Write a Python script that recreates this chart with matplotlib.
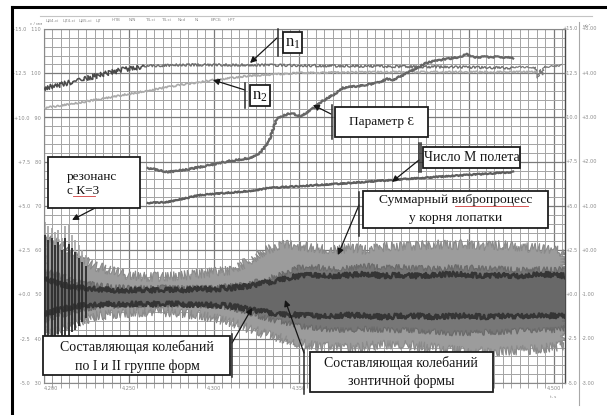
import numpy as np
import matplotlib.pyplot as plt
from matplotlib.patches import Rectangle
from matplotlib.lines import Line2D

plt.rcParams['font.family'] = ['Liberation Serif', 'DejaVu Serif']

# time, s
t = [4.200, 4.210, 4.220, 4.230, 4.240, 4.250, 4.260, 4.270, 4.280, 4.290,
     4.300, 4.310, 4.320, 4.330, 4.340, 4.350, 4.360, 4.370, 4.380, 4.390,
     4.400, 4.410, 4.420, 4.430, 4.440, 4.450, 4.460, 4.470, 4.480, 4.490,
     4.500, 4.5065]

# envelope of the total vibration signal at the blade root
total_top = [3.36, 2.80, 2.06, 1.61, 1.33, 1.10, 0.99, 0.99, 1.05, 1.16,
             1.27, 1.38, 1.84, 2.51, 2.80, 2.74, 2.63, 2.51, 2.63, 2.51,
             2.68, 2.74, 2.74, 2.85, 2.80, 2.85, 2.74, 2.80, 2.68, 2.63,
             2.51, 2.40]
total_bot = [-2.29, -2.01, -1.55, -1.21, -1.10, -1.05, -0.99, -0.99, -1.05, -1.16,
             -1.33, -1.55, -1.89, -2.23, -2.46, -2.74, -2.91, -2.97, -3.02, -2.91,
             -2.85, -2.85, -2.91, -3.02, -3.14, -3.25, -3.25, -3.19, -3.14, -3.08,
             -2.97, -2.85]

# I and II mode group component
mid_top = [1.38, 1.05, 0.71, 0.54, 0.42, 0.37, 0.37, 0.37, 0.37, 0.37,
           0.37, 0.48, 0.59, 0.82, 1.16, 1.50, 1.55, 1.44, 1.50, 1.61,
           1.50, 1.55, 1.50, 1.44, 1.55, 1.50, 1.50, 1.44, 1.38, 1.44,
           1.38, 1.50]
mid_bot = [-1.44, -1.16, -0.88, -0.71, -0.65, -0.59, -0.59, -0.59, -0.59, -0.59,
           -0.65, -0.76, -0.99, -1.33, -1.55, -1.78, -1.89, -2.01, -2.01, -1.95,
           -2.01, -2.01, -2.06, -2.12, -2.18, -2.18, -2.12, -2.12, -2.06, -2.01,
           -2.01, -1.89]

# umbrella mode component
core_top = [0.93, 0.59, 0.37, 0.31, 0.25, 0.25, 0.25, 0.25, 0.25, 0.31,
            0.31, 0.37, 0.48, 0.65, 0.88, 1.05, 1.10, 1.05, 1.10, 1.16,
            1.05, 1.10, 1.05, 1.10, 1.16, 1.10, 1.05, 1.10, 1.05, 1.16,
            1.10, 1.05]
core_bot = [-1.10, -0.82, -0.65, -0.59, -0.54, -0.54, -0.54, -0.54, -0.54, -0.59,
            -0.59, -0.65, -0.82, -0.99, -1.10, -1.16, -1.21, -1.21, -1.16, -1.21,
            -1.27, -1.21, -1.21, -1.27, -1.21, -1.21, -1.27, -1.21, -1.21, -1.16,
            -1.21, -1.21]

# resonance K=3 bursts
res_t = [4.2005, 4.2025, 4.2045, 4.2065, 4.2085, 4.2105, 4.2125, 4.2145,
         4.2165, 4.2185, 4.2205, 4.2225, 4.2245]
res_peak = [4.10, 3.87, 3.76, 3.53, 3.64, 3.19, 3.87, 3.98, 3.36, 3.08, 2.80, 2.51, 2.23]
res_top = [3.36, 3.08, 3.19, 2.80, 2.97, 2.51, 3.19, 2.85, 2.63, 2.40, 2.06, 1.84, 1.61]
res_bot = [-2.46, -2.57, -2.34, -2.46, -2.23, -2.40, -2.57, -2.34, -2.12, -2.01, -1.78, -1.55, -1.33]

# rotor speeds
n1_t = [4.200, 4.209, 4.221, 4.233, 4.245, 4.259, 4.280, 4.320, 4.380, 4.440, 4.476]
n1_v = [11.67, 11.84, 12.12, 12.40, 12.68, 12.91, 12.97, 12.97, 12.91, 12.85, 12.80]
n1b_t = [4.476, 4.486, 4.489, 4.4905, 4.492, 4.493, 4.494, 4.500, 4.5045]
n1b_v = [12.85, 12.85, 12.80, 12.23, 12.70, 12.40, 12.85, 12.90, 12.95]
n2_t = [4.200, 4.220, 4.240, 4.260, 4.280, 4.300, 4.320, 4.350, 4.400, 4.490]
n2_v = [10.54, 10.82, 11.16, 11.50, 11.84, 12.12, 12.35, 12.52, 12.57, 12.57]

# parameter epsilon
eps_t = [4.261, 4.273, 4.286, 4.298, 4.309, 4.321, 4.327, 4.332, 4.337, 4.345,
         4.351, 4.357, 4.362, 4.370, 4.376, 4.385, 4.396, 4.402, 4.405, 4.415,
         4.425, 4.433, 4.445, 4.448, 4.452, 4.461, 4.468, 4.476]
eps_v = [7.15, 6.92, 7.09, 7.32, 7.54, 7.71, 8.00, 8.56, 9.97, 10.25,
         10.08, 10.42, 10.82, 11.27, 11.67, 11.78, 11.95, 12.18, 12.12, 12.57,
         13.08, 13.25, 13.42, 13.59, 13.42, 13.42, 13.42, 13.36]

# flight Mach number
mach_t = [4.261, 4.273, 4.292, 4.321, 4.333, 4.380, 4.421, 4.476]
mach_v = [5.17, 5.23, 5.62, 5.85, 6.02, 6.30, 6.58, 6.92]

# axis scales
y_ticks = [-5.0, -2.5, 0.0, 2.5, 5.0, 7.5, 10.0, 12.5, 15.0]
left_a = ['-5.0', '-2.5', '+0.0', '+2.5', '+5.0', '+7.5', '+10.0', '+12.5', '+15.0']
left_b = ['30', '40', '50', '60', '70', '80', '90', '100', '110']
right_b = ['-3.00', '-2.00', '-1.00', '+0.00', '+1.00', '+2.00', '+3.00', '+4.00', '+5.00']
x_ticks = [4.20, 4.25, 4.30, 4.35, 4.45, 4.50]
x_labels = ['4.200', '4.250', '4.300', '4.350', '4.450', '4.500']
channels = ['ЦВ4-ci', 'ЦТ4-ci', 'ЦВ5-ci', 'ЦТ', 'НПВ', 'N/N', 'Т4-ci', 'Т4-ci', 'Nкd', 'Ni', 'ЕРСБ', 'НРТ']

W, H = 607, 415
fig = plt.figure(figsize=(W / 100, H / 100), dpi=100)
ax = fig.add_axes([44 / W, 1 - 383 / H, 521 / W, 354 / H])


def fp(x, y):
    return (x / W, 1 - y / H)


small = dict(family='DejaVu Sans', fontsize=3.6, color='#8a8a8a')

ax.set_xlim(4.2, 4.5065)
ax.set_ylim(-5, 15)
ax.set_xticks(x_ticks)
ax.set_xticklabels(x_labels, **small)
ax.get_xticklabels()[0].set_ha('left')
ax.set_xticks(np.arange(4.2, 4.507, 0.005), minor=True)
ax.set_yticks(y_ticks)
ax.set_yticklabels([a + '   ' + b for a, b in zip(left_a, left_b)], **small)
ax.set_yticks(np.arange(-5, 15.01, 0.5), minor=True)
ax.tick_params(which='major', length=0, pad=2)
ax.tick_params(axis='x', which='minor', direction='inout', length=7, color='#9a9a9a', width=0.6)
ax.tick_params(axis='y', which='minor', length=0)
ax.grid(which='minor', color='#a4a4a4', lw=0.7)
ax.grid(which='major', color='#7a7a7a', lw=0.9)
ax.set_axisbelow(True)
for side in ['left', 'top', 'bottom']:
    ax.spines[side].set_color('#8a8a8a')
    ax.spines[side].set_linewidth(0.8)
ax.spines['right'].set_color('#4a4a4a')
ax.spines['right'].set_linewidth(1.0)

for y, a, b in zip(y_ticks, left_a, right_b):
    ax.text(1.024, y, a, transform=ax.get_yaxis_transform(), ha='right', va='center', **small)
    ax.text(1.032, y, b, transform=ax.get_yaxis_transform(), ha='left', va='center', **small)

# vibration signal bands
band = ax.fill(t + t[::-1], total_top + total_bot[::-1], fc='#9c9c9c', ec='#8a8a8a', lw=0.8, zorder=2)[0]
band.set_sketch_params(scale=5, length=2, randomness=3)
mid = ax.fill(t + t[::-1], mid_top + mid_bot[::-1], fc='#777777', ec='#6a6a6a', lw=0.8, zorder=3)[0]
mid.set_sketch_params(scale=3, length=2, randomness=3)
core = ax.fill(t + t[::-1], core_top + core_bot[::-1], fc='#686868', lw=0, zorder=3.2)[0]
for edge in (core_top, core_bot):
    ln, = ax.plot(t, edge, color='#353535', lw=1.8, zorder=3.5)
    ln.set_sketch_params(scale=2.5, length=1.5, randomness=3)
ax.vlines(res_t, 0, res_peak, colors='#a2a2a2', lw=1.2, zorder=2.5)
ax.vlines(res_t, res_bot, res_top, colors='#2c2c2c', lw=1.3, zorder=3.6)

# slow parameters
l1, = ax.plot(n1_t[:6], n1_v[:6], color='#4a4a4a', lw=1.1, zorder=4)
l1.set_sketch_params(scale=2.5, length=2, randomness=2)
l1b, = ax.plot(n1_t[5:], n1_v[5:], color='#6e6e6e', lw=1.0, zorder=4)
l1b.set_sketch_params(scale=1.2, length=3, randomness=3)
l1c, = ax.plot(n1b_t, n1b_v, color='#7a7a7a', lw=0.9, zorder=4)
l1c.set_sketch_params(scale=0.8, length=3, randomness=3)
l2, = ax.plot(n2_t, n2_v, color='#aaaaaa', lw=1.2, zorder=4)
l2.set_sketch_params(scale=0.8, length=3, randomness=3)
le, = ax.plot(eps_t, eps_v, color='#666666', lw=1.6, zorder=4)
le.set_sketch_params(scale=0.8, length=3, randomness=3)
lm, = ax.plot(mach_t, mach_v, color='#5e5e5e', lw=1.6, zorder=4)
lm.set_sketch_params(scale=0.6, length=3, randomness=3)

# page frame, right scale line and channel header
fig.add_artist(Line2D([12 / W, 12 / W], [0, 1 - 7 / H], color='black', lw=2.2))
fig.add_artist(Line2D([12 / W, 1], [1 - 7 / H, 1 - 7 / H], color='black', lw=2.2))
fig.add_artist(Line2D([579 / W, 579 / W], [1 - 405 / H, 1 - 22 / H], color='#a8a8a8', lw=0.8))
fig.add_artist(Line2D([40 / W, 592 / W], [1 - 16 / H, 1 - 16 / H], color='#c4c4c4', lw=0.8))
for i, name in enumerate(channels):
    fig.text(*fp(46 + i * 16.5, 20), name, ha='left', va='center', **dict(small, fontsize=3))
fig.text(*fp(30, 24), 'ε / мм', ha='left', va='center', **dict(small, fontsize=3))
fig.text(*fp(583, 26), 'м/с²', ha='left', va='center', **dict(small, fontsize=3))
fig.text(*fp(550, 397), 't, s', ha='left', va='center', **dict(small, fontsize=3))


def note_box(x0, y0, x1, y1):
    fig.add_artist(Rectangle(fp(x0, y1), (x1 - x0) / W, (y1 - y0) / H,
                             transform=fig.transFigure, fc='white', ec='#1e1e1e', lw=1.3, zorder=5))


def bar(x, y0, y1):
    fig.add_artist(Line2D([x / W, x / W], [1 - y0 / H, 1 - y1 / H], color='#2a2a2a', lw=1.1, zorder=5))


def label(x, y, s, size=10, ha='center'):
    fig.text(*fp(x, y), s, ha=ha, va='center', fontsize=size, color='#141414', zorder=6)


def pointer(x, y, tx, ty):
    ax.annotate('', xy=(tx, ty), xycoords='data', xytext=fp(x, y), textcoords='figure fraction',
                arrowprops=dict(arrowstyle='-|>', color='#161616', lw=0.9, mutation_scale=9,
                                shrinkA=0, shrinkB=0), annotation_clip=False, zorder=7)


def squiggle(x0, x1, y):
    ln = Line2D([x0 / W, x1 / W], [1 - y / H, 1 - y / H], color='#d03a3a', lw=0.6, zorder=7)
    ln.set_sketch_params(scale=1.0, length=2, randomness=1)
    fig.add_artist(ln)


# n1
note_box(283, 32, 302, 53)
bar(278, 29, 56)
label(292.5, 42.5, r'$\mathregular{n_1}$', size=12)
pointer(277, 38, 4.3212, 13.08)
# n2
note_box(250, 85, 270, 106)
bar(245, 83, 108)
label(260, 95.5, r'$\mathregular{n_2}$', size=12)
pointer(245, 90, 4.2994, 12.12)
# parameter epsilon
note_box(335, 107, 428, 137)
bar(332, 105, 139)
label(381.5, 122, 'Параметр Ɛ', size=9.5)
pointer(331, 114, 4.3582, 10.71)
# Mach number
note_box(423, 147, 520, 168)
bar(419, 143, 172)
bar(421, 143, 172)
label(471.5, 157.5, 'Число М полета', size=10)
pointer(419, 160, 4.4047, 6.36)
# total vibration
note_box(363, 191, 548, 228)
bar(359, 192, 236)
label(455.5, 200, 'Суммарный вибропроцесс', size=9.7)
label(455.5, 218, 'у корня лопатки', size=9.7)
squiggle(455, 528, 206)
pointer(359, 205, 4.3729, 2.23)
# resonance
note_box(48, 157, 140, 208)
label(67, 177, 'резонанс', size=9.5, ha='left')
label(67, 191, 'с К=3', size=9.5, ha='left')
squiggle(73, 95, 196)
pointer(97, 207, 4.2165, 4.21)
# I and II mode group
note_box(43, 336, 230, 375)
bar(232, 334, 377)
label(137, 347, 'Составляющая колебаний')
label(137, 366, 'по I и II группе форм')
pointer(232, 343, 4.3224, -0.76)
# umbrella mode
note_box(310, 352, 493, 392)
bar(304, 350, 394)
label(401, 363, 'Составляющая колебаний')
label(401, 381, 'зонтичной формы')
pointer(304, 353, 4.3418, -0.31)

fig.savefig('out.png', dpi=100)
